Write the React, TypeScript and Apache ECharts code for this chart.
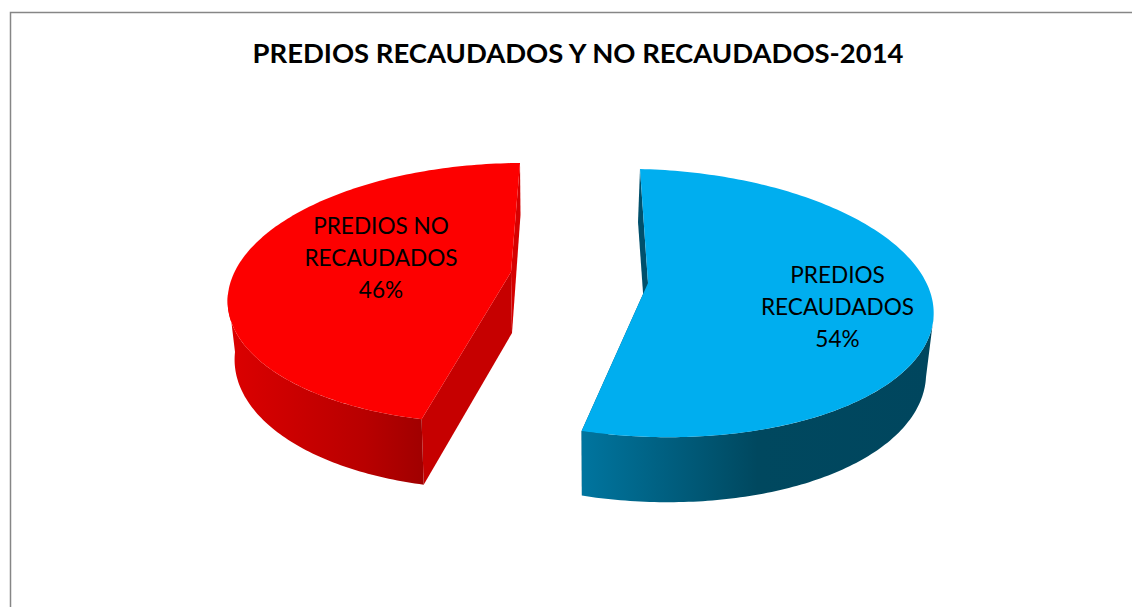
import React, { useEffect, useRef } from "react";
import * as echarts from "echarts";

const titleText = "PREDIOS RECAUDADOS Y NO RECAUDADOS-2014";
const categories = ["PREDIOS\nRECAUDADOS", "PREDIOS NO\nRECAUDADOS"];
const seriesValues = [54, 46];

type Ell = { cx: number; cy: number; rx: number; ry: number; k: number; m: number };

const geometry = [
  {
    top: { cx: 646.6, cy: 303, rx: 287, ry: 134, k: -6.6, m: 7 } as Ell,
    bottom: { cx: 645, cy: 362, rx: 281, ry: 140, k: -7, m: 8 } as Ell,
    apex: [648, 283],
    apexBottom: [646.7, 345],
    sideFrom: 93,
    face: "#00aeef",
    backFace: "#00506c",
    cutFace: "#004b66",
    sideStops: [
      { offset: 0, color: "#00759f" },
      { offset: 0.5, color: "#00485f" },
      { offset: 1, color: "#00465e" },
    ],
    label: [837.5, 306],
  },
  {
    top: { cx: 505, cy: 293, rx: 277, ry: 130, k: 15, m: -1 } as Ell,
    bottom: { cx: 505.5, cy: 352, rx: 270.5, ry: 137, k: 15, m: 0 } as Ell,
    apex: [511, 272],
    apexBottom: [512, 333],
    sideFrom: 270,
    face: "#fd0000",
    backFace: "#d60000",
    cutFace: "#c60000",
    sideStops: [
      { offset: 0, color: "#dc0000" },
      { offset: 0.7, color: "#b80000" },
      { offset: 1, color: "#a00000" },
    ],
    label: [381, 257],
  },
];

const rad = Math.PI / 180;
const pt = (e: Ell, deg: number): number[] => {
  const s = Math.sin(deg * rad);
  const c = Math.cos(deg * rad);
  return [e.cx + e.rx * s + e.k * c, e.cy - e.ry * c + e.m * s];
};
const arc = (e: Ell, a: number, b: number): number[][] => {
  const n = Math.max(2, Math.ceil(Math.abs(b - a)));
  const out: number[][] = [];
  for (let i = 0; i <= n; i++) out.push(pt(e, a + ((b - a) * i) / n));
  return out;
};

const total = seriesValues.reduce((a, b) => a + b, 0);

function renderItem(params: any, api: any) {
  const i = params.dataIndex;
  const g = geometry[i];
  let before = 0;
  for (let j = 0; j < i; j++) before += seriesValues[j];
  const value = api.value(0);
  const start = (before / total) * 360;
  const end = ((before + value) / total) * 360;
  const isFirst = i === 0;

  // outer wall: only the part facing the viewer
  const sA = isFirst ? g.sideFrom : start;
  const sB = isFirst ? end : g.sideFrom;
  const wall = [...arc(g.bottom, sA, sB), ...arc(g.top, sB, sA)];
  const wallFill = new echarts.graphic.LinearGradient(0, 0, 1, 0, g.sideStops);

  const back = isFirst
    ? [pt(g.top, start), pt(g.bottom, start), g.apexBottom, g.apex]
    : [pt(g.top, end), pt(g.bottom, end), g.apexBottom, g.apex];
  const cut = isFirst
    ? [pt(g.top, end), pt(g.bottom, end), g.apexBottom, g.apex]
    : [pt(g.top, start), pt(g.bottom, start), g.apexBottom, g.apex];

  const children: any[] = [
    { type: "polygon", shape: { points: back }, style: { fill: g.backFace } },
    { type: "polygon", shape: { points: cut }, style: { fill: g.cutFace } },
    { type: "polygon", shape: { points: wall }, style: { fill: wallFill } },
    {
      type: "polygon",
      shape: { points: [g.apex, ...arc(g.top, start, end)] },
      style: { fill: g.face },
    },
    {
      type: "text",
      x: g.label[0],
      y: g.label[1],
      style: {
        text: `${categories[i]}\n${Math.round((value / total) * 100)}%`,
        fill: "#000000",
        font: '22.6px Lato, "Open Sans", sans-serif',
        lineHeight: 32,
        align: "center",
        verticalAlign: "middle",
      },
    },
  ];
  return { type: "group", children };
}

export default function App() {
  const ref = useRef<HTMLDivElement>(null);
  useEffect(() => {
    document.body.style.margin = "0";
    const chart = echarts.init(ref.current!, undefined, { renderer: "svg" });
    chart.setOption({
      animation: false,
      backgroundColor: "#ffffff",
      title: {
        text: titleText,
        left: 573,
        top: 34,
        textAlign: "center",
        textStyle: {
          fontFamily: 'Lato, "Open Sans", sans-serif',
          fontWeight: "bold",
          fontSize: 27.45,
          color: "#000000",
        },
      },
      graphic: [
        {
          type: "polyline",
          silent: true,
          shape: { points: [[1132, 12.5], [10.5, 12.5], [10.5, 607]] },
          style: { stroke: "#868686", lineWidth: 1.5, fill: "none" },
        },
      ],
      series: [
        {
          type: "custom",
          coordinateSystem: "none",
          silent: true,
          clip: false,
          renderItem,
          data: categories.map((c, i) => ({ name: c, value: [seriesValues[i]] })),
        },
      ],
    });
    return () => chart.dispose();
  }, []);
  return (
    <div
      ref={ref}
      style={{ position: "absolute", left: 0, top: 0, width: 1132, height: 607 }}
    />
  );
}
